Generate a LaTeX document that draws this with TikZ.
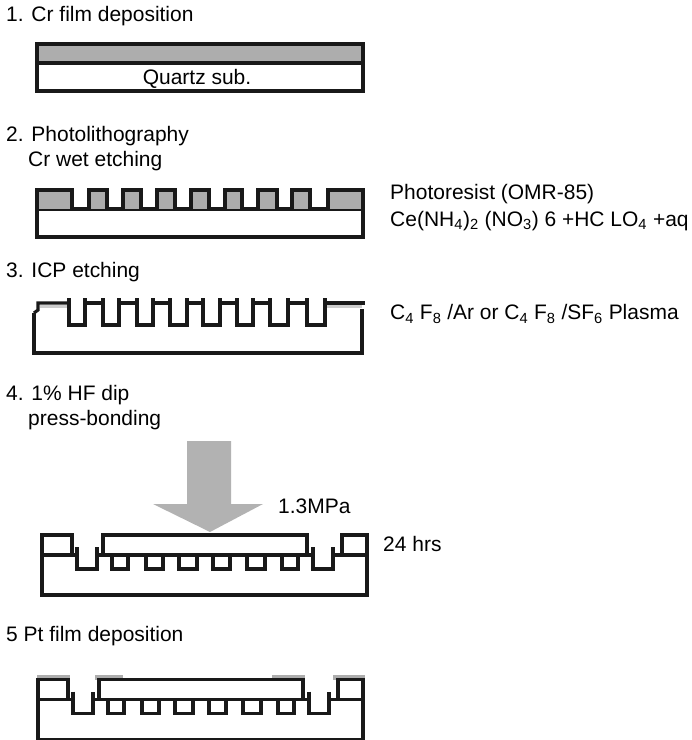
\documentclass[tikz,border=0pt]{standalone}
\usepackage{fontspec}
\setmainfont{Liberation Sans}
\tikzset{
  wall/.style={line width=2.7pt,line join=miter,black!90},
  step label/.style={anchor=west,inner sep=0pt,font=\fontsize{17.9}{20}\selectfont}
}
\newcommand{\bondedchip}{%
  % lower wafer with two deep trenches and six channels
  \draw[wall] (42,555) rectangle (367,595);
  \draw[wall,fill=white] (42,535) rectangle (72,555);
  \draw[wall,fill=white] (342,535) rectangle (367,555);
  \draw[wall,fill=white] (103,535) rectangle (307,555);
  \fill[white] (74,553) rectangle (101,557.5);
  \fill[white] (309,553) rectangle (340,557.5);
  \draw[wall] (77,547) -- (77,569) -- (97,569) -- (97,547);
  \draw[wall] (313,547) -- (313,569) -- (333,569) -- (333,547);
  \draw[wall] (70,555) -- (77,555) (97,555) -- (105,555) (305,555) -- (313,555) (333,555) -- (344,555);
  \foreach \xa/\xb in {112/128,146/163,179/197,213/230,247/265,282/298}
    \draw[wall] (\xa,555) -- (\xa,569) -- (\xb,569) -- (\xb,555);
}
\begin{document}
\begin{tikzpicture}[x=0.03cm,y=-0.03cm]
  \useasboundingbox (0,0) rectangle (691,740);
  % 1. film on substrate
  \node[step label] (stepone) at (6,16) {1. Cr film deposition};
  \fill[black!32] (37,44) rectangle (363,63);
  \draw[wall] (37,44) rectangle (363,91);
  \draw[wall] (37,63) -- (363,63);
  \node[step label,anchor=center] (quartz) at (197,79) {Quartz sub.};
  % 2. resist pattern
  \node[step label] (steptwo) at (6,136) {2. Photolithography};
  \node[step label] (steptwob) at (28,161) {Cr wet etching};
  \draw[wall] (37,209) rectangle (363,237);
  \foreach \xa/\xb in {37/72,89/107,123/141,157/175,191/209,225/242,258/277,292/310,328/363}
    \draw[wall,fill=black!32] (\xa,209) -- (\xa,190) -- (\xb,190) -- (\xb,209);
  \node[step label] (resist) at (390,194) {Photoresist (OMR-85)};
  \node[step label] (etchant) at (390,221) {Ce(NH\textsubscript{4})\textsubscript{2} (NO\textsubscript{3}) 6 +HC LO\textsubscript{4} +aq};
  % 3. etched trenches
  \node[step label] (stepthree) at (6,272) {3. ICP etching};
  \fill[black!20] (40,305) rectangle (69,308);
  \fill[black!20] (325,305) rectangle (362,308);
  \draw[wall] (34,313) -- (34,353) -- (362,353) -- (362,309);
  \draw[wall] (34,313) -- (38,310) -- (38,303) -- (69,303);
  \draw[wall] (325,303) -- (365,303);
  \foreach \xa/\xb in {69/85,103/119,137/153,170/187,203/220,237/253,270/288,307/325}
    \draw[wall] (\xa,298) -- (\xa,325) -- (\xb,325) -- (\xb,298);
  \foreach \xa/\xb in {85/103,119/137,153/170,187/203,220/237,253/270,288/307}
    \draw[wall] (\xa,303) -- (\xb,303);
  \node[step label] (plasma) at (390,314) {C\textsubscript{4} F\textsubscript{8} /Ar or C\textsubscript{4} F\textsubscript{8} /SF\textsubscript{6} Plasma};
  % 4. bonding
  \node[step label] (stepfour) at (6,395) {4. 1\% HF dip};
  \node[step label] (stepfourb) at (28,420) {press-bonding};
  \fill[black!30] (187,441) -- (231,441) -- (231,504) -- (263,504) -- (210,532) -- (153,504) -- (187,504) -- cycle;
  \node[step label] (pressure) at (278,506) {1.3MPa};
  \node[step label] (hours) at (383,544) {24 hrs};
  \bondedchip
  % 5. Pt film
  \node[step label] (stepfive) at (6,636) {5 Pt film deposition};
  \foreach \xa/\xb in {37/70,95/123,272/305,333/365}
    \fill[black!32] (\xa,675) rectangle (\xb,680);
  \begin{scope}[shift={(-4,144.5)}]
    \bondedchip
  \end{scope}
\end{tikzpicture}
\end{document}
